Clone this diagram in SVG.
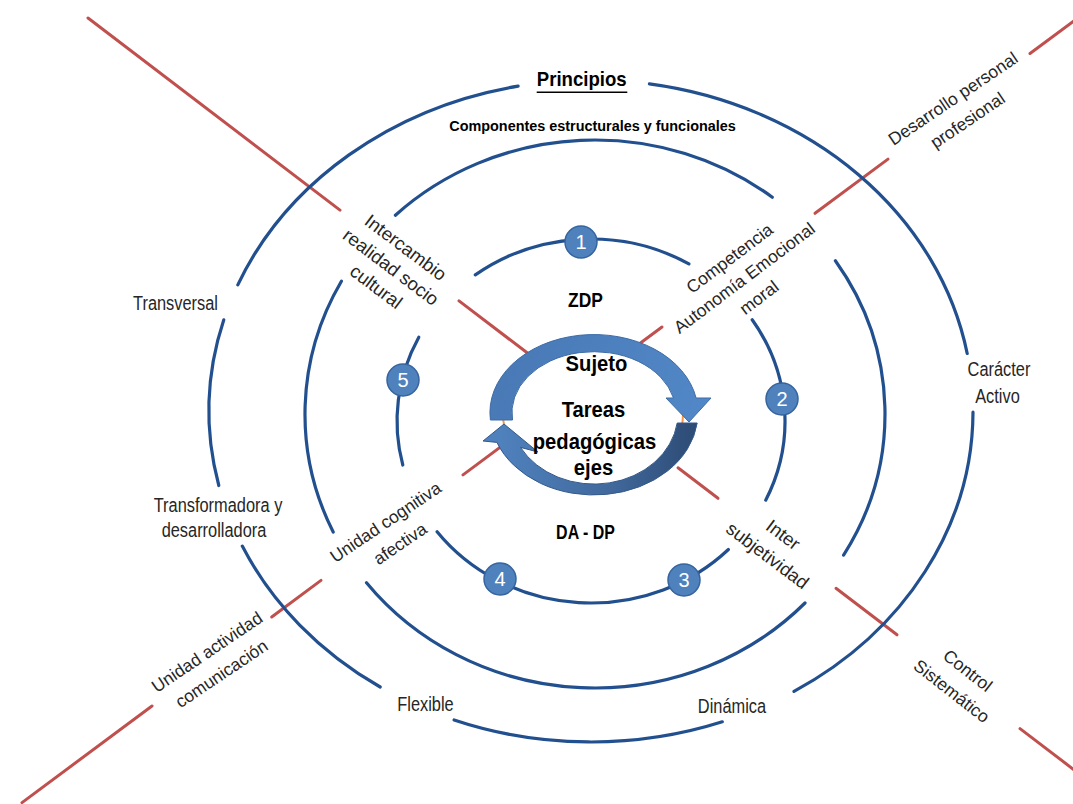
<svg xmlns="http://www.w3.org/2000/svg" width="1073" height="804" viewBox="0 0 1073 804">
<defs>
<style>
.ring{fill:none;stroke:#22508f;stroke-width:3.2;stroke-linecap:round}
.axis{fill:none;stroke:#c0504d;stroke-width:3;stroke-linecap:round}
.lbl{font-family:"Liberation Sans",Arial,sans-serif;fill:#262626;text-anchor:middle}
.h{font-size:21px}
.r{font-size:17.5px}
.b{font-weight:bold;fill:#000}
.num circle{fill:#4f81bd;stroke:#35649f;stroke-width:1.5}
.num text{font-family:"Liberation Sans",Arial,sans-serif;font-size:20px;fill:#fff;text-anchor:middle}
</style>
<linearGradient id="gTop" gradientUnits="userSpaceOnUse" x1="490" y1="335" x2="710" y2="420">
<stop offset="0" stop-color="#4878b4"/><stop offset="1" stop-color="#5288c8"/>
</linearGradient>
<linearGradient id="gBot" gradientUnits="userSpaceOnUse" x1="500" y1="450" x2="700" y2="450">
<stop offset="0" stop-color="#4f81bd"/><stop offset="0.55" stop-color="#41699c"/><stop offset="1" stop-color="#2c4a73"/>
</linearGradient>
</defs>
<rect width="1073" height="804" fill="#fff"/>

<g id="connectors">
<path class="axis" d="M88,18 L340,210.1"/>
<path class="axis" d="M459,300.9 L535,358.8"/>
<path class="axis" d="M678,467.8 L718,498.3"/>
<path class="axis" d="M836,588.3 L897,634.8"/>
<path class="axis" d="M1020,728.6 L1076,771.3"/>
<path class="axis" d="M1030,53.5 L1074,20.8"/>
<path class="axis" d="M815,213.3 L888,159.1"/>
<path class="axis" d="M630,350.8 L662,327"/>
<path class="axis" d="M463,474.9 L510,440"/>
<path class="axis" d="M271.7,617 L321,580.4"/>
<path class="axis" d="M22,802.6 L152,706"/>
</g>

<g id="rings">
<path class="ring" d="M649.4,83.9 A382,331 0 0 1 967.2,353.5"/>
<path class="ring" d="M973,412.2 A382,331 0 0 1 794,691.4"/>
<path class="ring" d="M722.3,721.8 A382,331 0 0 1 454.1,720"/>
<path class="ring" d="M380.2,687 A382,331 0 0 1 242.3,546.1"/>
<path class="ring" d="M218.8,485.5 A382,331 0 0 1 223.8,319.8"/>
<path class="ring" d="M237.8,284.9 A382,331 0 0 1 518.1,86.1"/>
<path class="ring" d="M395.4,215.2 A290,274 0 0 1 772.3,197.2"/>
<path class="ring" d="M835.4,260.8 A290,274 0 0 1 843.6,555.1"/>
<path class="ring" d="M805,603 A290,274 0 0 1 366.5,582.7"/>
<path class="ring" d="M333.2,532 A290,274 0 0 1 341.4,281.2"/>
<path class="ring" d="M475.3,274.9 A194,182 0 0 1 688.9,263.9"/>
<path class="ring" d="M752.2,319.8 A194,182 0 0 1 765.7,500.2"/>
<path class="ring" d="M728.4,549.5 A194,182 0 0 1 437.1,531.8"/>
<path class="ring" d="M402.8,465 A194,182 0 0 1 418.8,337.2"/>
</g>

<g id="sujeto">
<ellipse cx="593" cy="414" rx="90" ry="74" fill="#fff" stroke="#f79646" stroke-width="2"/>
<path d="M490.4,420 A104,78 0 0 1 696.1,398 L711,398 L689,422 L666,398 L673.5,398 A82,61 0 0 0 512.5,420 Z" fill="url(#gTop)" stroke="#3d6ca6" stroke-width="1"/>
<path d="M697.2,423 A104,82 0 0 1 496.9,442.4 L483,441 L504,424 L538,452 L520.5,447.4 A84,71 0 0 0 677.2,423 Z" fill="url(#gBot)" stroke="#34598a" stroke-width="1"/>
<text class="lbl b" font-size="22" transform="translate(596.5,371) scale(0.92,1)">Sujeto</text>
<text class="lbl b" font-size="22" transform="translate(593.5,417) scale(0.92,1)">Tareas</text>
<text class="lbl b" font-size="22" transform="translate(594.5,449) scale(0.92,1)">pedagógicas</text>
<text class="lbl b" font-size="22" transform="translate(593.5,475) scale(0.92,1)">ejes</text>
</g>

<g id="principios">
<text class="lbl b" font-size="20" transform="translate(581.7,86) scale(0.93,1)">Principios</text>
<line x1="536.7" y1="92.3" x2="627.3" y2="92.3" stroke="#000" stroke-width="1.5"/>
</g>
<g id="componentes">
<text class="lbl b" font-size="15.5" transform="translate(592.5,131) scale(0.93,1)">Componentes estructurales y funcionales</text>
</g>
<g id="zdp"><text class="lbl b" font-size="21" transform="translate(585.5,306.5) scale(0.83,1)">ZDP</text></g>
<g id="dadp"><text class="lbl b" font-size="21" transform="translate(585.5,539) scale(0.76,1)">DA - DP</text></g>

<g id="transversal"><text class="lbl h" transform="translate(175.5,310) scale(0.78,1)">Transversal</text></g>
<g id="transformadora">
<text class="lbl h" transform="translate(218,512) scale(0.78,1)">Transformadora y</text>
<text class="lbl h" transform="translate(214,537) scale(0.78,1)">desarrolladora</text>
</g>
<g id="caracter">
<text class="lbl h" transform="translate(999,376) scale(0.78,1)">Carácter</text>
<text class="lbl h" transform="translate(997.5,402.5) scale(0.78,1)">Activo</text>
</g>
<g id="flexible"><text class="lbl h" transform="translate(425.5,711) scale(0.78,1)">Flexible</text></g>
<g id="dinamica"><text class="lbl h" transform="translate(732,712.7) scale(0.78,1)">Dinámica</text></g>

<g id="intercambio">
<text class="lbl" font-size="18.5" transform="translate(391,267) rotate(37)"><tspan x="0" y="-18">Intercambio</tspan><tspan x="0" y="6.5">realidad socio</tspan><tspan x="0" y="31">cultural</tspan></text>
</g>
<g id="competencia">
<text class="lbl r" transform="translate(744,277.5) rotate(-37)"><tspan x="0" y="-18">Competencia</tspan><tspan x="0" y="6.5">Autonomía Emocional</tspan><tspan x="0" y="31">moral</tspan></text>
</g>
<g id="intersubjetividad">
<text class="lbl" font-size="18.5" transform="translate(775.5,545) rotate(37)"><tspan x="0" y="-6.5">Inter</tspan><tspan x="0" y="19.5">subjetividad</tspan></text>
</g>
<g id="unidad-cognitiva">
<text class="lbl r" transform="translate(392.5,532.5) rotate(-34)"><tspan x="0" y="-6.5">Unidad cognitiva</tspan><tspan x="0" y="19.5">afectiva</tspan></text>
</g>
<g id="desarrollo">
<text class="lbl r" transform="translate(960,109) rotate(-34)"><tspan x="0" y="-6.5">Desarrollo personal</tspan><tspan x="0" y="19.5">profesional</tspan></text>
</g>
<g id="unidad-actividad">
<text class="lbl r" transform="translate(214,662.5) rotate(-34)"><tspan x="0" y="-6.5">Unidad actividad</tspan><tspan x="0" y="19.5">comunicación</tspan></text>
</g>
<g id="control">
<text class="lbl r" transform="translate(960,680.5) rotate(38)"><tspan x="0" y="-6.5">Control</tspan><tspan x="0" y="19.5">Sistemático</tspan></text>
</g>

<g id="step1" class="num"><circle cx="581" cy="242" r="16"/><text x="581" y="249">1</text></g>
<g id="step2" class="num"><circle cx="782" cy="399" r="16"/><text x="782" y="406">2</text></g>
<g id="step3" class="num"><circle cx="684" cy="580" r="16"/><text x="684" y="587">3</text></g>
<g id="step4" class="num"><circle cx="500" cy="579" r="16"/><text x="500" y="586">4</text></g>
<g id="step5" class="num"><circle cx="403" cy="380" r="16"/><text x="403" y="387">5</text></g>
</svg>
